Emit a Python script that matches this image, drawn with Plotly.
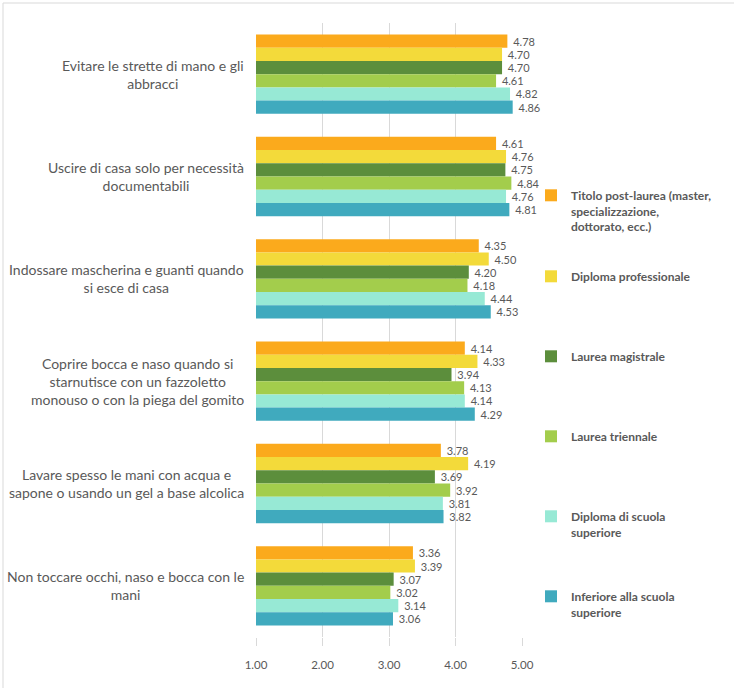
import plotly.graph_objects as go

categories = [
    "Evitare le strette di mano e gli<br>abbracci",
    "Uscire di casa solo per necessità<br>documentabili",
    "Indossare mascherina e guanti quando<br>si esce di casa",
    "Coprire bocca e naso quando si<br>starnutisce con un fazzoletto<br>monouso o con la piega del gomito",
    "Lavare spesso le mani con acqua e<br>sapone o usando un gel a base alcolica",
    "Non toccare occhi, naso e bocca con le<br>mani",
]

series_names = [
    "Titolo post-laurea (master,<br>specializzazione,<br>dottorato, ecc.)",
    "Diploma professionale",
    "Laurea magistrale",
    "Laurea triennale",
    "Diploma di scuola<br>superiore",
    "Inferiore alla scuola<br>superiore",
]

titolo_post_laurea = [4.78, 4.61, 4.35, 4.14, 3.78, 3.36]
diploma_professionale = [4.70, 4.76, 4.50, 4.33, 4.19, 3.39]
laurea_magistrale = [4.70, 4.75, 4.20, 3.94, 3.69, 3.07]
laurea_triennale = [4.61, 4.84, 4.18, 4.13, 3.92, 3.02]
diploma_scuola_superiore = [4.82, 4.76, 4.44, 4.14, 3.81, 3.14]
inferiore_scuola_superiore = [4.86, 4.81, 4.53, 4.29, 3.82, 3.06]

series_values = [
    titolo_post_laurea,
    diploma_professionale,
    laurea_magistrale,
    laurea_triennale,
    diploma_scuola_superiore,
    inferiore_scuola_superiore,
]

colors = ["#FBAA1C", "#F3DA3A", "#5C8E3C", "#A3CD4C", "#97E9D5", "#40AABE"]

tick_vals = [1, 2, 3, 4, 5]
tick_text = ["1.00", "2.00", "3.00", "4.00", "5.00"]

FONT = "Lato"
GREY = "#595959"

fig = go.Figure()
legend_ids = ["legend", "legend2", "legend3", "legend4", "legend5", "legend6"]
for name, vals, col, lid in zip(series_names, series_values, colors, legend_ids):
    fig.add_trace(go.Bar(
        y=categories, x=vals, orientation="h", name=name,
        marker=dict(color=col, line=dict(width=0)),
        text=["\u00a0" + f"{v:.2f}" for v in vals], textposition="outside",
        textfont=dict(family=FONT, size=11, color=GREY),
        constraintext="none", cliponaxis=False,
        legend=lid,
    ))

# plot area pixel geometry
L, R, T, B = 256, 212, 23, 51
W = 734 - L - R
H = 688 - T - B

def py(pix):
    return 1 - (pix - T) / H

def px(pix):
    return (pix - L) / W

legend_tops = [181, 262, 342, 422, 502, 582]
layout_legends = {}
for lid, top in zip(legend_ids, legend_tops):
    layout_legends[lid] = dict(
        x=px(531), y=py(top), xanchor="left", yanchor="top",
        font=dict(family=FONT, size=12, color=GREY, weight="bold"),
        bgcolor="rgba(0,0,0,0)", valign="top", itemwidth=30,
        tracegroupgap=0,
    )

annotations = []
for c in categories:
    annotations.append(dict(
        x=0, xref="paper", y=c, yref="y", xanchor="right", xshift=-10,
        text=c, showarrow=False, align="center",
        font=dict(family=FONT, size=14, color=GREY),
    ))

fig.update_layout(
    width=734, height=688,
    margin=dict(l=L, r=R, t=T, b=B),
    paper_bgcolor="white", plot_bgcolor="white",
    barmode="group", bargap=0.225, bargroupgap=0,
    showlegend=True,
    annotations=annotations,
    shapes=[dict(type="rect", xref="paper", yref="paper",
                 x0=px(3), x1=px(760), y0=py(720), y1=py(3),
                 line=dict(color="#D9D9D9", width=1), fillcolor="rgba(0,0,0,0)",
                 layer="below")],
    xaxis=dict(
        range=[1, 5], tickvals=tick_vals, ticktext=tick_text,
        showgrid=True, gridcolor="#D9D9D9", gridwidth=1,
        zeroline=False, showline=False,
        ticks="outside", ticklen=8, tickcolor="#D9D9D9",
        ticklabelstandoff=9,
        tickfont=dict(family=FONT, size=11.5, color=GREY),
    ),
    yaxis=dict(
        autorange="reversed", showticklabels=False, showgrid=False,
        zeroline=False, showline=False, ticks="",
    ),
    **layout_legends,
)

fig.write_html("out.html")
